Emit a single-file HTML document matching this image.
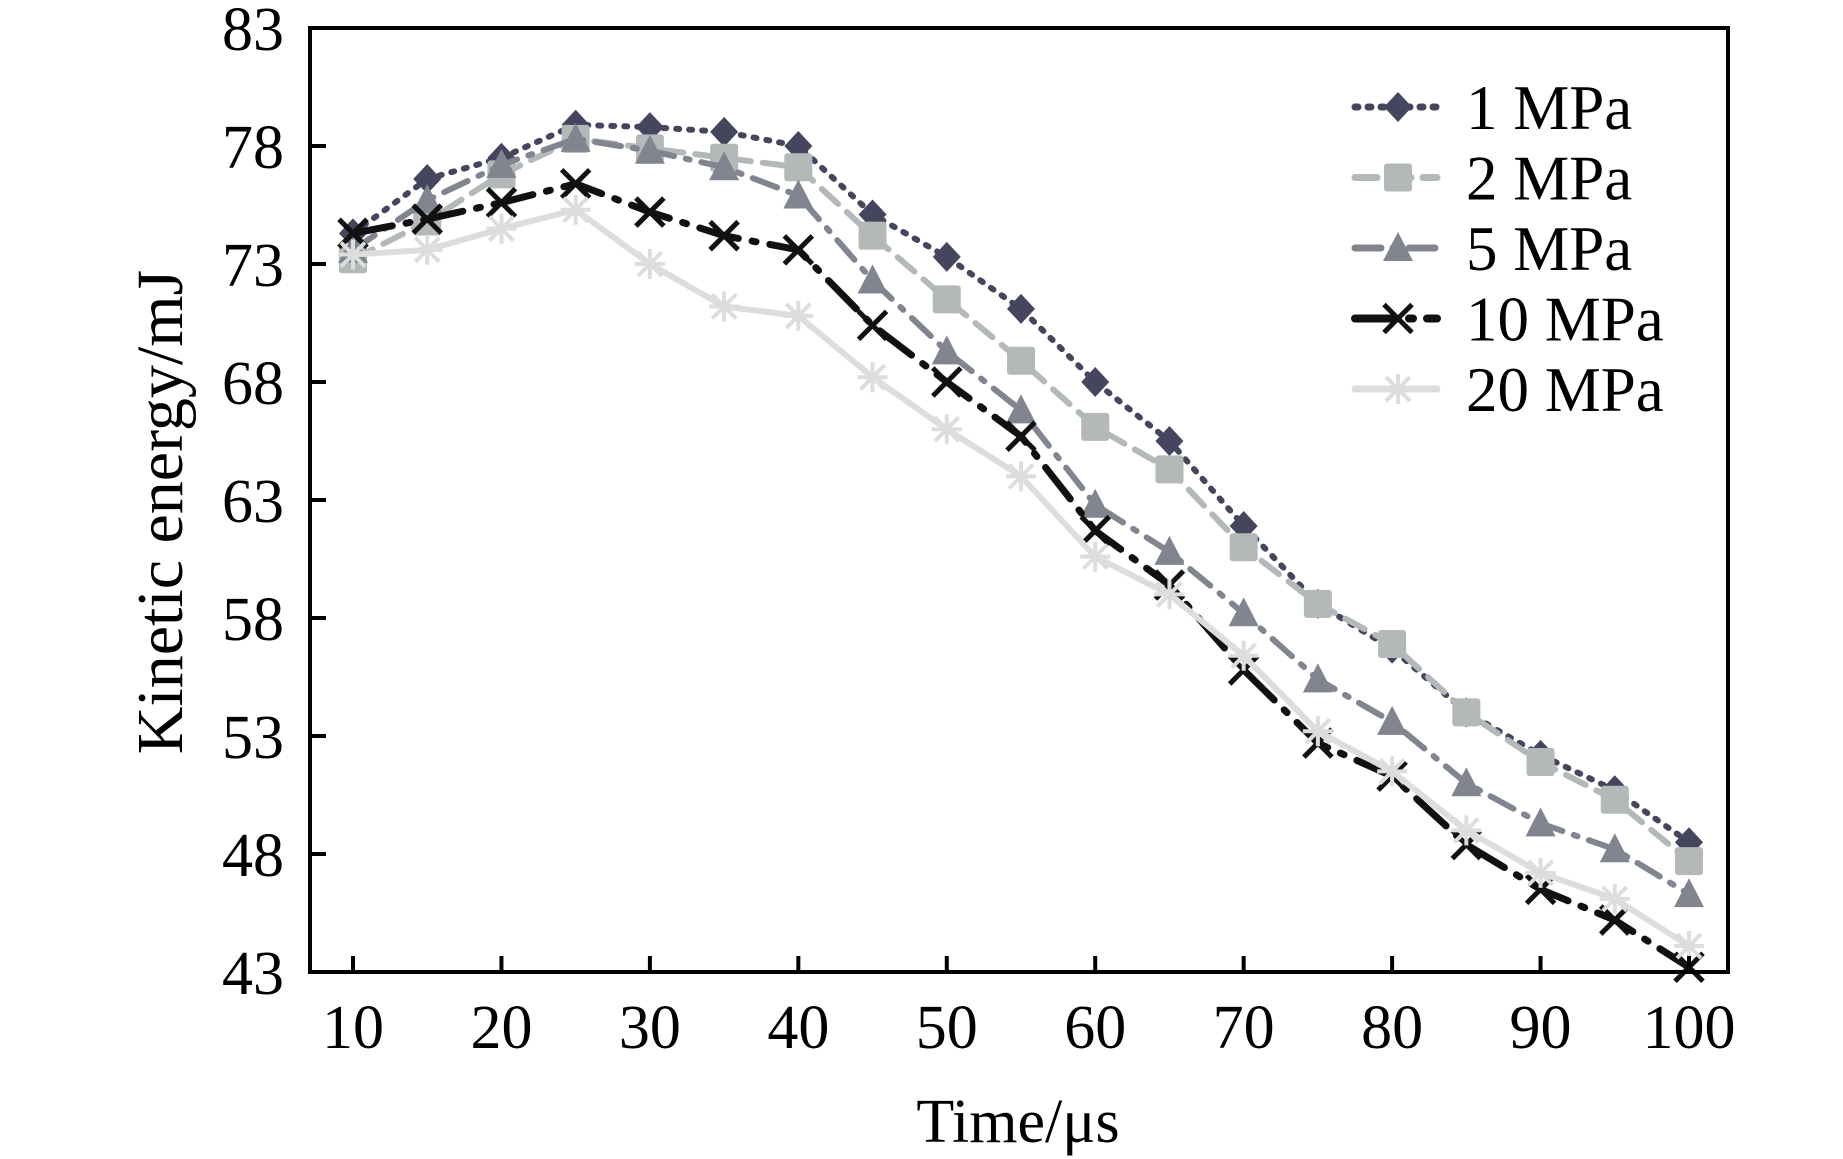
<!DOCTYPE html>
<html><head><meta charset="utf-8"><style>
html,body{margin:0;padding:0;background:#fff;}
svg{display:block;font-family:"Liberation Serif",serif;}
</style></head><body>
<svg id="chart" width="1843" height="1159" viewBox="0 0 1843 1159" xmlns="http://www.w3.org/2000/svg">
<g id="plot"></g>
<g id="axes"></g>
<g id="legend"></g>
<text x="0" y="0" transform="translate(182,512) rotate(-90) scale(1,1)" text-anchor="middle" font-size="66">Kinetic energy/mJ</text>
<text x="1018" y="1142" text-anchor="middle" font-size="62">Time/μs</text>
</svg>
<script>
const times = [10,15,20,25,30,35,40,45,50,55,60,65,70,75,80,85,90,95,100];
const s1 = [74.3,76.6,77.5,78.9,78.8,78.6,78.0,75.1,73.3,71.1,68.0,65.5,61.9,58.6,56.7,54.0,52.2,50.7,48.5];
const s2 = [73.2,74.8,76.8,78.3,77.9,77.5,77.1,74.2,71.5,68.9,66.1,64.3,61.0,58.6,56.9,54.0,51.9,50.3,47.7];
const s5 = [73.6,75.7,77.2,78.3,77.8,77.1,75.9,72.3,69.3,66.8,62.8,60.8,58.2,55.4,53.6,51.0,49.3,48.2,46.3];
const s10 = [74.3,74.9,75.6,76.4,75.2,74.2,73.6,70.4,68.0,65.7,61.7,59.4,55.8,52.7,51.3,48.4,46.5,45.2,43.2];
const s20 = [73.4,73.6,74.5,75.3,73.0,71.2,70.8,68.2,66.0,64.0,60.6,59.0,56.4,53.2,51.5,49.0,47.2,46.1,44.1];
const seriesNames = ["1 MPa","2 MPa","5 MPa","10 MPa","20 MPa"];
const xTicks = [10,20,30,40,50,60,70,80,90,100];
const yTicks = [43,48,53,58,63,68,73,78,83];

const NS="http://www.w3.org/2000/svg";
const L=310,R=1728,T=28,B=972;
const X=v=>353+(v-10)*(1689-353)/90;
const Y=v=>B-(v-43)*(B-T)/40;
function mk(tag,attrs,parent){const e=document.createElementNS(NS,tag);for(const k in attrs)e.setAttribute(k,attrs[k]);parent.appendChild(e);return e;}
const plot=document.getElementById('plot'),axes=document.getElementById('axes'),legend=document.getElementById('legend');

const styles=[
 {c:"#45465e",dash:"3 10",w:6,m:"diamond"},
 {c:"#b3b8b8",dash:"22 12",w:6,m:"square"},
 {c:"#80858f",dash:"26 12 4 12",w:6,m:"triangle"},
 {c:"#111111",dash:"40 14 4 14",w:7,m:"x"},
 {c:"#dcdedb",dash:"",w:6,m:"star"}
];
const data=[s1,s2,s5,s10,s20];

function marker(type,x,y,c,g){
 let e;
 if(type==="diamond"){e=mk('polygon',{points:`${x},${y-15} ${x+14},${y} ${x},${y+15} ${x-14},${y}`,fill:c},g);}
 else if(type==="square"){e=mk('rect',{x:x-14,y:y-14,width:28,height:28,rx:3,fill:c},g);}
 else if(type==="triangle"){e=mk('polygon',{points:`${x},${y-16} ${x+15},${y+13} ${x-15},${y+13}`,fill:c},g);}
 else if(type==="x"){e=mk('path',{d:`M${x-14},${y-14}L${x+14},${y+14}M${x+14},${y-14}L${x-14},${y+14}`,stroke:c,'stroke-width':5,fill:'none'},g);}
 else {e=mk('path',{d:`M${x-12},${y-12}L${x+12},${y+12}M${x+12},${y-12}L${x-12},${y+12}M${x},${y-15}L${x},${y+15}M${x-15},${y}L${x+15},${y}`,stroke:c,'stroke-width':4,fill:'none'},g);}
 return e;
}

data.forEach((arr,i)=>{
 const st=styles[i];
 const g=mk('g',{},plot);
 
 
 const pts=arr.map((v,j)=>X(times[j])+','+Y(v)).join(' ');
 const line=mk('polyline',{points:pts,fill:'none',stroke:st.c,'stroke-width':st.w,'stroke-dasharray':st.dash,'stroke-linecap':'round'},g);
 
 
 arr.forEach((v,j)=>{
  const m=marker(st.m,X(times[j]),Y(v),st.c,g);
  
  
 });
 const ly=107+i*70.5;
 const lg=mk('g',{},legend);
 
 
 mk('line',{x1:1355,y1:ly,x2:1437,y2:ly,stroke:st.c,'stroke-width':st.w+1,'stroke-dasharray':st.dash,'stroke-linecap':'round'},lg);
 marker(st.m,1398,ly,st.c,lg);
 const t=mk('text',{x:1466,y:ly+22,'font-size':63},lg);
 t.textContent=seriesNames[i];
});

const fr=mk('rect',{x:L,y:T,width:R-L,height:B-T,fill:'none',stroke:'#000','stroke-width':4},axes);


xTicks.forEach(v=>{
 const tk=mk('line',{x1:X(v),y1:B,x2:X(v),y2:B-16,stroke:'#000','stroke-width':4},axes);
 
 
 const t=mk('text',{x:X(v),y:1048,'text-anchor':'middle','font-size':62},axes);
 
 
 t.textContent=v;
});
yTicks.forEach(v=>{
 const tk=mk('line',{x1:L,y1:Y(v),x2:L+16,y2:Y(v),stroke:'#000','stroke-width':4},axes);
 
 
 const t=mk('text',{x:284,y:Y(v)+22,'text-anchor':'end','font-size':62},axes);
 
 
 t.textContent=v;
});
</script>
</body></html>
